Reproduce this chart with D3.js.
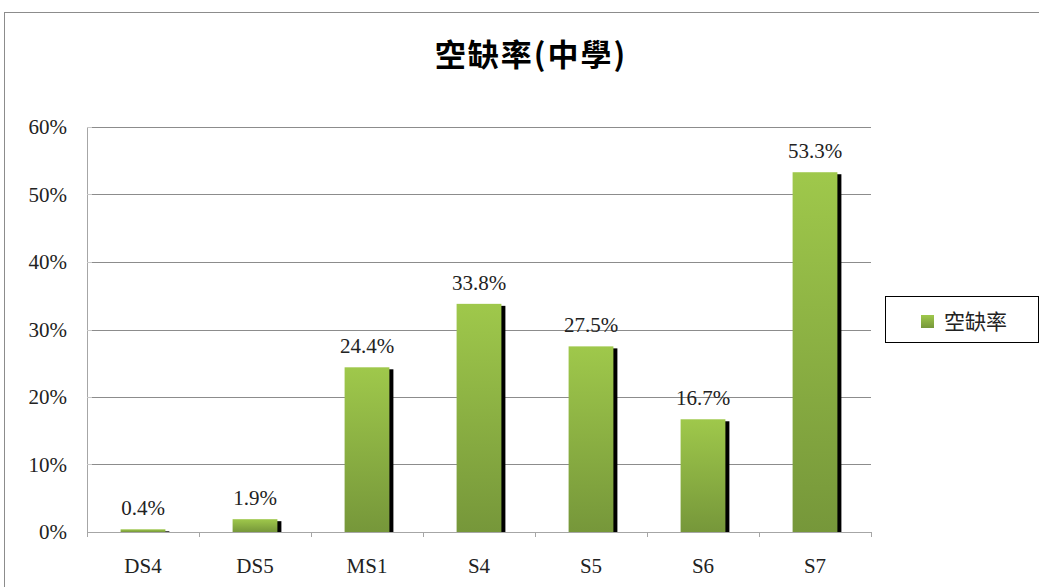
<!DOCTYPE html>
<html>
<head>
<meta charset="utf-8">
<script src="https://cdn.jsdelivr.net/npm/d3@7"></script>
<style>
  body { margin: 0; background: #fff; }
  svg { display: block; }
</style>
</head>
<body>
<div id="chart"></div>
<script>
// chart data
var categories = ["DS4", "DS5", "MS1", "S4", "S5", "S6", "S7"];
var vacancyRate = [0.004, 0.019, 0.244, 0.338, 0.275, 0.167, 0.533];
var yTicks = [0, 0.1, 0.2, 0.3, 0.4, 0.5, 0.6];
var seriesName = "空缺率";
var chartTitle = "空缺率(中學)";

var W = 1039, H = 587;
var margin = { top: 127, right: 168, bottom: 55, left: 87 },
    width = W - margin.left - margin.right,
    height = H - margin.top - margin.bottom;

var serif = "'Liberation Serif', 'DejaVu Serif', serif";

var svg = d3.select("#chart")
    .append("svg")
    .attr("width", W)
    .attr("height", H);

// outer chart border
svg.append("rect")
    .attr("x", 4.5).attr("y", 12.5)
    .attr("width", W + 10).attr("height", H + 10)
    .attr("fill", "none")
    .attr("stroke", "#8c8c8c")
    .attr("stroke-width", 1);

var defs = svg.append("defs");
var grad = defs.append("linearGradient")
    .attr("id", "barGrad")
    .attr("x1", 0).attr("y1", 0).attr("x2", 0).attr("y2", 1);
grad.append("stop").attr("offset", "0%").attr("stop-color", "#9fc84b");
grad.append("stop").attr("offset", "100%").attr("stop-color", "#76973a");

defs.append("clipPath").attr("id", "plotClip")
    .append("rect")
    .attr("x", 0).attr("y", -20)
    .attr("width", width).attr("height", height + 20);

var g = svg.append("g")
    .attr("transform", "translate(" + margin.left + "," + margin.top + ")");

// scales
var x = d3.scaleBand().domain(categories).range([0, width]).paddingInner(0.6).paddingOuter(0.3);
var xTick = d3.scaleBand().domain(categories).range([0, width]);
var y = d3.scaleLinear().domain([0, 0.6]).range([height, 0]);

// gridlines
g.append("g")
    .selectAll("line")
    .data(yTicks.slice(1))
    .enter().append("line")
    .attr("x1", 0).attr("x2", width)
    .attr("y1", function (d) { return Math.round(y(d)) + 0.5; })
    .attr("y2", function (d) { return Math.round(y(d)) + 0.5; })
    .attr("stroke", "#8c8c8c")
    .attr("stroke-width", 1);

// Y axis
var yAxis = d3.axisLeft(y)
    .tickValues(yTicks)
    .tickFormat(d3.format(".0%"))
    .tickSize(0)
    .tickPadding(20);

var yG = g.append("g")
    .attr("class", "y axis")
    .call(yAxis);
yG.select(".domain").attr("stroke", "#a6a6a6");
yG.selectAll("text")
    .style("font-family", serif)
    .style("font-size", "21px")
    .attr("fill", "#222");

// Y ticks (small, inside)
g.append("g")
    .selectAll("line")
    .data(yTicks)
    .enter().append("line")
    .attr("x1", 0).attr("x2", 5)
    .attr("y1", function (d) { return Math.round(y(d)) + 0.5; })
    .attr("y2", function (d) { return Math.round(y(d)) + 0.5; })
    .attr("stroke", "#c8c8c8");

// bars + shadow
var bars = g.append("g").attr("clip-path", "url(#plotClip)");

bars.selectAll("rect.shadow")
    .data(vacancyRate)
    .enter().append("rect")
    .attr("class", "shadow")
    .attr("x", function (d, i) { return x(categories[i]) + 4; })
    .attr("y", function (d) { return y(d) + 2; })
    .attr("width", x.bandwidth())
    .attr("height", function (d) { return height - y(d); })
    .attr("fill", "#000");

bars.selectAll("rect.bar")
    .data(vacancyRate)
    .enter().append("rect")
    .attr("class", "bar")
    .attr("x", function (d, i) { return x(categories[i]); })
    .attr("y", function (d) { return y(d); })
    .attr("width", x.bandwidth())
    .attr("height", function (d) { return height - y(d); })
    .attr("fill", "url(#barGrad)");

// X axis
var xAxis = d3.axisBottom(xTick).tickSize(0).tickPadding(26);
var xG = g.append("g")
    .attr("class", "x axis")
    .attr("transform", "translate(0," + height + ")")
    .call(xAxis);
xG.select(".domain").attr("stroke", "#a6a6a6");
xG.selectAll("text")
    .style("font-family", serif)
    .style("font-size", "21px")
    .attr("fill", "#222");

// category boundary ticks
xG.selectAll("line.sep")
    .data(d3.range(categories.length + 1))
    .enter().append("line")
    .attr("class", "sep")
    .attr("x1", function (i) { return Math.round(i * xTick.step()) + 0.5; })
    .attr("x2", function (i) { return Math.round(i * xTick.step()) + 0.5; })
    .attr("y1", 0).attr("y2", 5)
    .attr("stroke", "#a6a6a6");

// value labels
g.append("g")
    .selectAll("text")
    .data(vacancyRate)
    .enter().append("text")
    .attr("x", function (d, i) { return x(categories[i]) + x.bandwidth() / 2; })
    .attr("y", function (d) { return y(d) - 14; })
    .attr("text-anchor", "middle")
    .style("font-family", serif)
    .style("font-size", "21px")
    .attr("fill", "#222")
    .text(function (d) { return d3.format(".1%")(d); });

// title
svg.append("text")
    .attr("x", 531)
    .attr("y", 66)
    .attr("text-anchor", "middle")
    .style("font-family", "'Noto Sans CJK TC', 'Noto Sans', sans-serif")
    .style("font-weight", "bold")
    .style("font-size", "31px")
    .style("letter-spacing", "2px")
    .attr("fill", "#000")
    .text(chartTitle);

// legend
var leg = svg.append("g").attr("transform", "translate(885,296)");
leg.append("rect")
    .attr("x", 0.5).attr("y", 0.5)
    .attr("width", 153).attr("height", 46)
    .attr("fill", "#fff")
    .attr("stroke", "#000")
    .attr("stroke-width", 1);
leg.append("rect")
    .attr("x", 36).attr("y", 19)
    .attr("width", 13).attr("height", 13)
    .attr("fill", "url(#barGrad)");
leg.append("text")
    .attr("x", 59)
    .attr("y", 33)
    .style("font-family", "'Noto Sans CJK TC', sans-serif")
    .style("font-size", "21px")
    .attr("fill", "#222")
    .text(seriesName);
</script>
</body>
</html>
